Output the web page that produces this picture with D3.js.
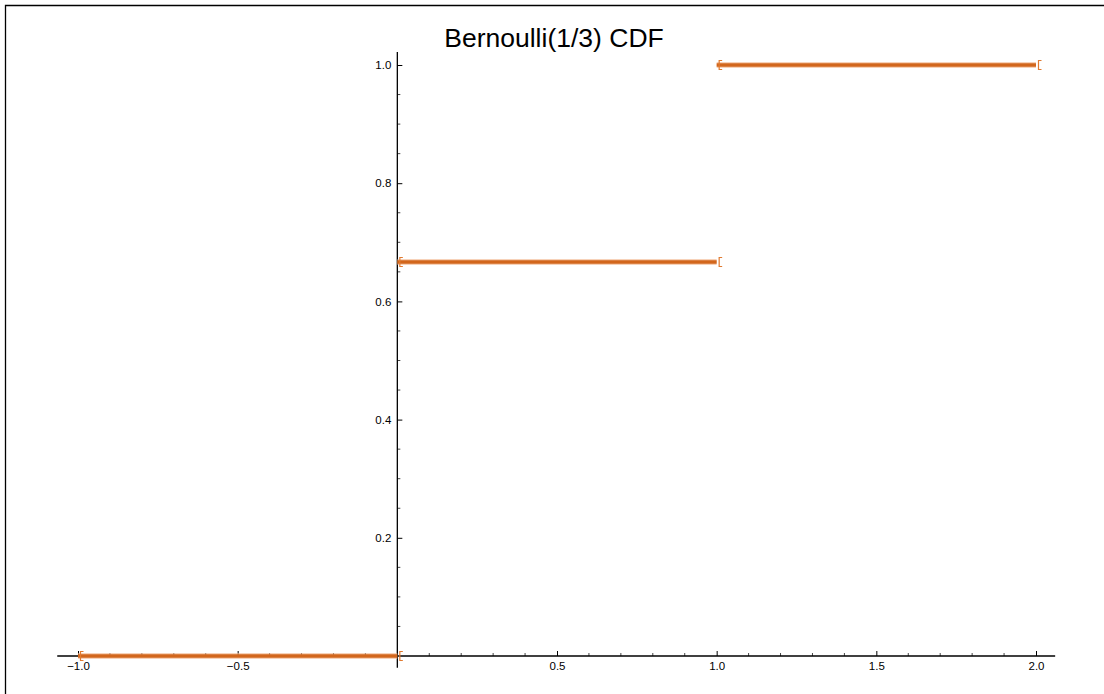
<!DOCTYPE html>
<html>
<head>
<meta charset="utf-8">
<script src="https://cdn.jsdelivr.net/npm/d3@7"></script>
<style>
  body { margin: 0; background: #fff; }
  svg { display: block; font-family: "Liberation Sans", Arial, sans-serif; }
</style>
</head>
<body>
<div id="wrapper"></div>
<script>
// CDF of Bernoulli(1/3): step segments [x0, x1] at level y
const segStart = [-1, 0, 1]
const segEnd = [0, 1, 2]
const segLevel = [0, 2 / 3, 1]

const xMajor = [-1, -0.5, 0.5, 1, 1.5, 2]
const yMajor = [0.2, 0.4, 0.6, 0.8, 1.0]
const title = "Bernoulli(1/3) CDF"

const segments = segStart.map((s, i) => ({ x0: s, x1: segEnd[i], y: segLevel[i] }))

const dimensions = { width: 1104, height: 694 }

// pixel anchors
const xScale = d3.scaleLinear().domain([-1, 2]).range([78, 1036])
const yScale = d3.scaleLinear().domain([0, 1]).range([656, 65])

const svg = d3.select("#wrapper")
  .append("svg")
    .attr("width", dimensions.width)
    .attr("height", dimensions.height)

// frame lines (top and left)
svg.append("path")
  .attr("d", `M5.5,${dimensions.height} V5.5 H${dimensions.width}`)
  .attr("fill", "none")
  .attr("stroke", "#000")
  .attr("stroke-width", 1.3)

svg.append("text")
  .attr("x", 554)
  .attr("y", 47)
  .attr("text-anchor", "middle")
  .attr("font-size", 26.5)
  .attr("fill", "#000")
  .text(title)

// minor ticks
const xMinor = d3.range(-10, 21).map(d => d / 10).filter(d => !xMajor.includes(d) && d !== 0)
const yMinor = d3.range(1, 21).map(d => d / 20).filter(d => !yMajor.some(m => Math.abs(m - d) < 1e-9))

const x0 = yScale(0)
const y0 = xScale(0)

svg.append("g")
  .selectAll("line")
  .data(xMinor)
  .join("line")
    .attr("x1", d => xScale(d)).attr("x2", d => xScale(d))
    .attr("y1", x0).attr("y2", x0 - 3)
    .attr("stroke", "#444")
    .attr("stroke-width", 1)

svg.append("g")
  .selectAll("line")
  .data(yMinor)
  .join("line")
    .attr("y1", d => yScale(d)).attr("y2", d => yScale(d))
    .attr("x1", y0).attr("x2", y0 + 3)
    .attr("stroke", "#444")
    .attr("stroke-width", 1)

// x axis
const xAxisGenerator = d3.axisBottom(xScale)
  .tickValues(xMajor)
  .tickSize(-5)
  .tickPadding(6)
  .tickFormat(d => d3.format(".1f")(d).replace("-", "\u2212"))

const xAxis = svg.append("g")
  .attr("transform", `translate(0,${x0})`)
  .call(xAxisGenerator)
xAxis.select(".domain")
  .attr("d", `M${xScale(-1.065)},0H${xScale(2.06)}`)
  .attr("stroke-width", 1.3)
xAxis.selectAll("text").attr("font-size", 11.5).attr("fill", "#000").attr("font-family", null)

// y axis
const yAxisGenerator = d3.axisLeft(yScale)
  .tickValues(yMajor)
  .tickSize(-5)
  .tickPadding(6)
  .tickFormat(d3.format(".1f"))

const yAxis = svg.append("g")
  .attr("transform", `translate(${y0},0)`)
  .call(yAxisGenerator)
yAxis.select(".domain")
  .attr("d", `M0,${yScale(1.022)}V${yScale(-0.02)}`)
  .attr("stroke-width", 1.3)
yAxis.selectAll("text").attr("font-size", 11.5).attr("fill", "#000").attr("font-family", null)

// step segments: soft halo + solid line
const steps = svg.append("g")

steps.selectAll(".halo")
  .data(segments)
  .join("line")
    .attr("class", "halo")
    .attr("x1", d => xScale(d.x0)).attr("x2", d => xScale(d.x1))
    .attr("y1", d => yScale(d.y)).attr("y2", d => yScale(d.y))
    .attr("stroke", "#f2b48a")
    .attr("stroke-width", 6)
    .attr("stroke-opacity", 0.6)

steps.selectAll(".step")
  .data(segments)
  .join("line")
    .attr("class", "step")
    .attr("x1", d => xScale(d.x0)).attr("x2", d => xScale(d.x1))
    .attr("y1", d => yScale(d.y)).attr("y2", d => yScale(d.y))
    .attr("stroke", "#d2661c")
    .attr("stroke-width", 3.5)

// bracket markers at each end of a segment
const ends = segments.flatMap(d => [{ x: d.x0, y: d.y }, { x: d.x1, y: d.y }])
steps.selectAll(".bracket")
  .data(ends)
  .join("path")
    .attr("class", "bracket")
    .attr("d", d => {
      const px = xScale(d.x) + 2.5
      const py = yScale(d.y)
      return `M${px + 3},${py - 4.5}H${px}V${py + 4.5}H${px + 3}`
    })
    .attr("fill", "none")
    .attr("stroke", "#e07a30")
    .attr("stroke-width", 1.2)
</script>
</body>
</html>
